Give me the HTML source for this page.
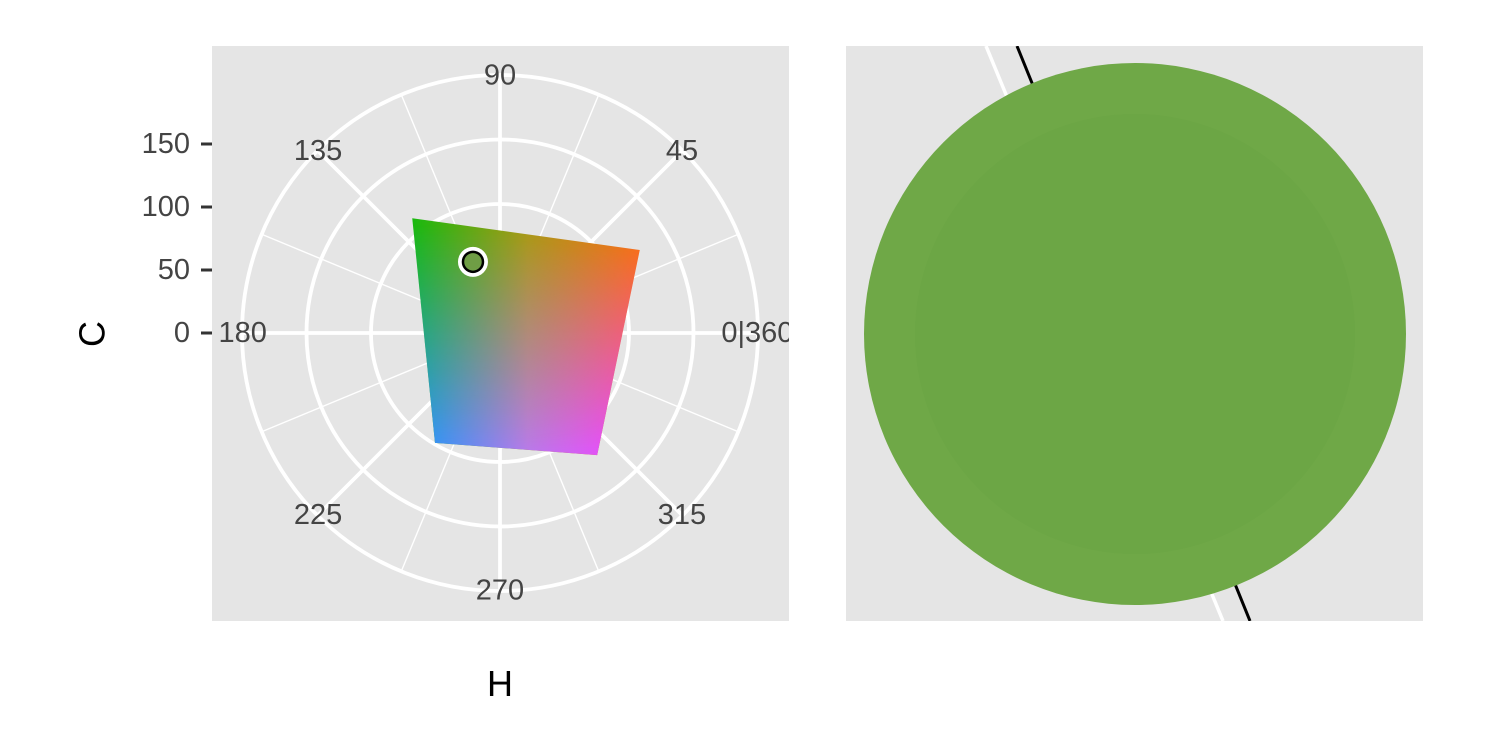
<!DOCTYPE html>
<html><head><meta charset="utf-8"><style>
html,body{margin:0;padding:0;background:#fff;}
svg{display:block;font-family:"Liberation Sans",Arial,sans-serif;}
</style></head><body>
<svg id="chart" width="1500" height="750" viewBox="0 0 1500 750">
<defs>
<linearGradient id="gTop" x1="0" y1="0" x2="1" y2="0"><stop offset="0" stop-color="#10bb10"/><stop offset="0.5" stop-color="#a99a10"/><stop offset="1" stop-color="#ff7000"/></linearGradient>
<linearGradient id="gBot" x1="0" y1="0" x2="1" y2="0"><stop offset="0" stop-color="#109aff"/><stop offset="0.5" stop-color="#b87ae8"/><stop offset="1" stop-color="#ff38ff"/></linearGradient>
<linearGradient id="gMask" x1="0" y1="0" x2="0" y2="1"><stop offset="0.05" stop-color="#000"/><stop offset="0.95" stop-color="#fff"/></linearGradient>
<mask id="mBot"><rect x="405" y="212" width="245" height="250" fill="url(#gMask)"/></mask>
<clipPath id="cPoly"><polygon id="polyClip" points=""/></clipPath>
<clipPath id="cLeft"><rect x="212" y="46" width="577" height="575"/></clipPath>
<clipPath id="cRight"><rect x="846" y="46" width="577" height="575"/></clipPath>
</defs>
<rect x="212" y="46" width="577" height="575" fill="#e5e5e5"/>
<rect x="846" y="46" width="577" height="575" fill="#e5e5e5"/>
<g id="grid"></g>
<g clip-path="url(#cPoly)">
<rect x="405" y="212" width="245" height="250" fill="url(#gTop)"/>
<rect x="405" y="212" width="245" height="250" fill="url(#gBot)" mask="url(#mBot)"/>
</g>
<g id="pts"></g>
<g id="hlabels" font-size="29" fill="#444" clip-path="url(#cLeft)"></g>
<g id="labels" font-size="29" fill="#444"></g>
<g clip-path="url(#cRight)">
<line x1="986" y1="46" x2="1223" y2="621" stroke="#fff" stroke-width="3.5"/>
<line x1="1017" y1="46" x2="1250" y2="621" stroke="#000" stroke-width="3"/>
<circle cx="1135" cy="334" r="271" fill="#6fa847"/>
<circle cx="1135" cy="334" r="220" fill="#68a141" opacity="0.3"/>
</g>
<text x="92" y="334" font-size="36" text-anchor="middle" transform="rotate(-90 92 334)" dominant-baseline="central">C</text>
<text x="500" y="696" font-size="36" text-anchor="middle">H</text>
</svg>
<script>
const hueTicks=[0,45,90,135,180,225,270,315];
const hueLabels=["0|360","45","90","135","180","225","270","315"];
const chromaTicks=[0,50,100,150];
const ringValues=[50,100,150,200];
const regionH=[127.4, 30.7, 308.5, 239.4];
const regionC=[112, 126, 121, 99];
const pointH=[110.8];
const pointC=[59];
const NS="http://www.w3.org/2000/svg";
const cx=500,cy=333,k=1.29,yk=63/50;
function px(h,c){const a=h*Math.PI/180;return [cx+Math.cos(a)*c*k, cy-Math.sin(a)*c*k];}
function mk(t,a,p){const e=document.createElementNS(NS,t);for(const q in a)e.setAttribute(q,a[q]);p.appendChild(e);return e;}
const grid=document.getElementById('grid');
for(let i=0;i<16;i++){const h=i*22.5;const [x,y]=px(h,200);
const l=mk('line',{x1:cx,y1:cy,x2:x,y2:y,stroke:'#fff','stroke-width':i%2?1.4:3.8},grid);

}
ringValues.forEach(v=>{const c=mk('circle',{cx:cx,cy:cy,r:v*k,fill:'none',stroke:'#fff','stroke-width':3.8},grid);

});
const poly=document.getElementById('polyClip');
poly.setAttribute('points',regionH.map((h,i)=>px(h,regionC[i]).join(',')).join(' '));
const pts=document.getElementById('pts');
pointH.forEach((h,i)=>{const [x,y]=px(h,pointC[i]);
mk('circle',{cx:x,cy:y,r:15,fill:'#fff'},pts);
const c=mk('circle',{cx:x,cy:y,r:10,fill:'#6f9d45',stroke:'#000','stroke-width':2.5},pts);

});
const hl=document.getElementById('hlabels');
hueTicks.forEach((h,i)=>{const [x,y]=px(h,199.5);
const t=mk('text',{x:x,y:y,'text-anchor':'middle','dominant-baseline':'central'},hl);
t.textContent=hueLabels[i];

});
const lab=document.getElementById('labels');
chromaTicks.forEach(v=>{const y=cy-v*yk;
const t=mk('text',{x:190,y:y,'text-anchor':'end','dominant-baseline':'central'},lab);
t.textContent=v;


const l=mk('line',{x1:201,y1:y,x2:212,y2:y,stroke:'#333','stroke-width':3},lab);

});
</script>
</body></html>
